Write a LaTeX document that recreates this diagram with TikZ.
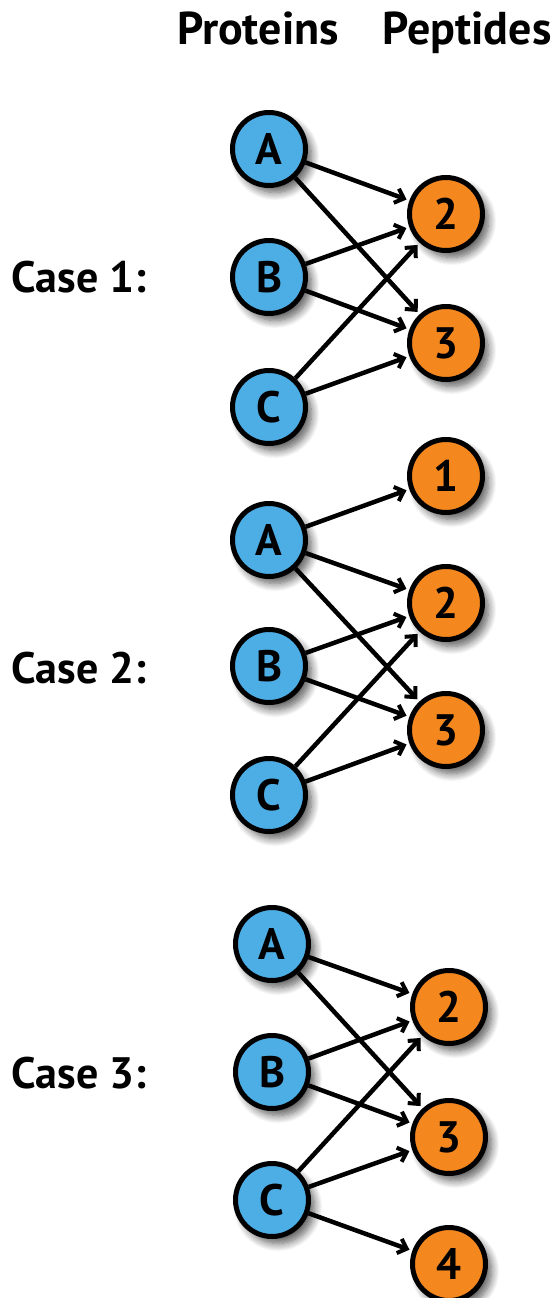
\documentclass[tikz,border=0pt]{standalone}
\usepackage{fontspec}
\setmainfont{PT Sans}
\usetikzlibrary{arrows.meta,shadows.blur}
\definecolor{pblue}{HTML}{4DAEE6}
\definecolor{porange}{HTML}{F5871F}
\begin{document}
\begin{tikzpicture}[x=1pt,y=-1pt,
  base/.style={circle,draw=black,line width=5pt,minimum size=73pt,inner sep=0pt,
    font=\fontsize{44}{44}\selectfont\bfseries,
    blur shadow={shadow xshift=6pt,shadow yshift=-7pt,shadow blur radius=8pt,shadow blur steps=10,shadow opacity=65}},
  prot/.style={base,fill=pblue},
  pep/.style={base,fill=porange},
  hdr/.style={font=\fontsize{46}{46}\selectfont\bfseries,anchor=base},
  caselab/.style={font=\fontsize{44}{44}\selectfont\bfseries,anchor=west},
  arr/.style={line width=4.5pt,-{Straight Barb[length=8pt,width=15pt,line width=4pt]},shorten >=3pt}
]
\useasboundingbox (0,0) rectangle (559,1298);
\node[hdr] (hp) at (258,45) {Proteins};
\node[hdr] (hq) at (467,45) {Peptides};
% Case 1
\node[caselab] (c1) at (8,277) {Case 1:};
\node[prot] (a1) at (269,149) {A};
\node[prot] (b1) at (269,277) {B};
\node[prot] (cc1) at (269,407) {C};
\node[pep] (p12) at (446,214) {2};
\node[pep] (p13) at (446,343) {3};
\foreach \s/\t in {a1/p12,a1/p13,b1/p12,b1/p13,cc1/p12,cc1/p13}
  \draw[arr] (\s) -- (\t);
% Case 2
\node[caselab] (c2) at (8,668) {Case 2:};
\node[prot] (a2) at (269,540) {A};
\node[prot] (b2) at (269,666) {B};
\node[prot] (cc2) at (269,795) {C};
\node[pep] (p21) at (446,476) {1};
\node[pep] (p22) at (446,603) {2};
\node[pep] (p23) at (446,730) {3};
\foreach \s/\t in {a2/p21,a2/p22,a2/p23,b2/p22,b2/p23,cc2/p22,cc2/p23}
  \draw[arr] (\s) -- (\t);
% Case 3
\node[caselab] (c3) at (8,1073) {Case 3:};
\node[prot] (a3) at (272,944) {A};
\node[prot] (b3) at (272,1072) {B};
\node[prot] (cc3) at (272,1200) {C};
\node[pep] (p32) at (449,1007) {2};
\node[pep] (p33) at (449,1137) {3};
\node[pep] (p34) at (449,1264) {4};
\foreach \s/\t in {a3/p32,a3/p33,b3/p32,b3/p33,cc3/p32,cc3/p33,cc3/p34}
  \draw[arr] (\s) -- (\t);
\end{tikzpicture}
\end{document}
